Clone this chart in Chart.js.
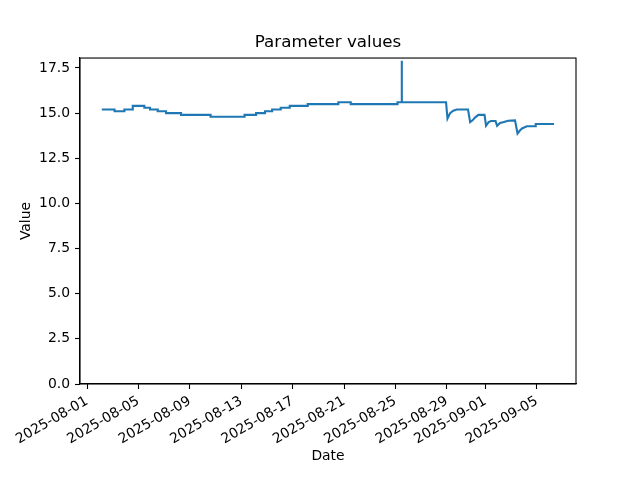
<!DOCTYPE html>
<html>
<head>
<meta charset="utf-8">
<script src="https://cdn.jsdelivr.net/npm/chart.js@4"></script>
<style>
  body { margin: 0; background: #fff; }
  #wrap { width: 640px; height: 480px; }
</style>
</head>
<body>
<div id="wrap"><canvas id="myChart" width="640" height="480"></canvas></div>
<script>
const times = [
  "2025-08-02T03:30", "2025-08-03T03:20", "2025-08-03T03:20", "2025-08-03T21:40",
  "2025-08-03T21:40", "2025-08-04T13:20", "2025-08-04T13:20", "2025-08-05T11:00",
  "2025-08-05T11:00", "2025-08-05T21:40", "2025-08-05T21:40", "2025-08-06T12:00",
  "2025-08-06T12:00", "2025-08-07T03:30", "2025-08-07T03:30", "2025-08-08T07:30",
  "2025-08-08T07:30", "2025-08-10T14:40", "2025-08-10T14:40", "2025-08-13T06:10",
  "2025-08-13T06:10", "2025-08-14T03:40", "2025-08-14T03:40", "2025-08-14T20:20",
  "2025-08-14T20:20", "2025-08-15T09:40", "2025-08-15T09:40", "2025-08-16T01:40",
  "2025-08-16T01:40", "2025-08-16T18:30", "2025-08-16T18:30", "2025-08-18T04:10",
  "2025-08-18T04:10", "2025-08-20T13:20", "2025-08-20T13:20", "2025-08-21T12:30",
  "2025-08-21T12:30", "2025-08-25T03:50", "2025-08-25T03:50", "2025-08-25T11:30",
  "2025-08-25T11:45", "2025-08-25T12:00", "2025-08-28T22:30", "2025-08-29T01:10",
  "2025-08-29T06:00", "2025-08-29T12:00", "2025-08-29T18:30", "2025-08-30T15:30",
  "2025-08-30T19:30", "2025-08-31T00:00", "2025-08-31T04:30", "2025-08-31T10:50",
  "2025-08-31T22:20", "2025-09-01T01:10", "2025-09-01T06:00", "2025-09-01T10:30",
  "2025-09-01T19:00", "2025-09-01T21:50", "2025-09-02T03:20", "2025-09-02T09:00",
  "2025-09-02T18:20", "2025-09-03T07:20", "2025-09-03T12:00", "2025-09-03T16:50",
  "2025-09-03T20:30", "2025-09-04T05:15", "2025-09-04T22:00", "2025-09-04T22:00",
  "2025-09-06T08:10",
];
const values = [
  15.2, 15.2, 15.1, 15.1,
  15.2, 15.2, 15.4, 15.4,
  15.3, 15.3, 15.2, 15.2,
  15.1, 15.1, 15.0, 15.0,
  14.9, 14.9, 14.8, 14.8,
  14.9, 14.9, 15.0, 15.0,
  15.1, 15.1, 15.2, 15.2,
  15.3, 15.3, 15.4, 15.4,
  15.5, 15.5, 15.6, 15.6,
  15.5, 15.5, 15.6, 15.6,
  17.9, 15.6, 15.6, 14.7,
  15.0, 15.13, 15.2, 15.2,
  14.5, 14.6, 14.75, 14.9,
  14.9, 14.3, 14.5, 14.56,
  14.56, 14.3, 14.45, 14.5,
  14.58, 14.6, 13.87, 14.05,
  14.15, 14.27, 14.28, 14.4,
  14.4,
];
const xTickDates = [
  "2025-08-01", "2025-08-05", "2025-08-09", "2025-08-13", "2025-08-17",
  "2025-08-21", "2025-08-25", "2025-08-29", "2025-09-01", "2025-09-05",
];
const yTicks = [0, 2.5, 5, 7.5, 10, 12.5, 15, 17.5];

const DAY = 86400000;
const ms = (s) => Date.parse(s.length === 10 ? s + "T00:00Z" : s + "Z");
const xMin = ms("2025-08-01") - 0.55 * DAY;
const xMax = ms("2025-08-01") + 38.05 * DAY;

Chart.defaults.font.family = "'DejaVu Sans', sans-serif";
Chart.defaults.font.size = 13.9;
Chart.defaults.color = "#000";

// black box around the plot area, like matplotlib spines
const frame = {
  id: "frame",
  afterDraw(chart) {
    const { ctx, chartArea: a } = chart;
    ctx.save();
    ctx.strokeStyle = "#000";
    ctx.lineWidth = 1.1;
    ctx.strokeRect(a.left, a.top, a.right - a.left, a.bottom - a.top);
    ctx.restore();
  },
};

const tickGrid = {
  drawOnChartArea: false,
  drawTicks: true,
  tickLength: 5,
  tickColor: "#000",
  tickWidth: 1.1,
};

const ctx = document.getElementById("myChart");

new Chart(ctx, {
  type: "line",
  data: {
    datasets: [
      {
        data: times.map((t, i) => ({ x: ms(t), y: values[i] })),
        borderColor: "#1f77b4",
        borderWidth: 2.1,
        pointRadius: 0,
        tension: 0,
        fill: false,
      },
    ],
  },
  options: {
    responsive: false,
    animation: false,
    layout: { padding: { left: 16, right: 0, top: 0, bottom: 0 } },
    plugins: {
      legend: { display: false },
      tooltip: { enabled: false },
      title: {
        display: true,
        text: "Parameter values",
        font: { size: 16.7, weight: "normal" },
        padding: { top: 33, bottom: 5 },
      },
    },
    scales: {
      x: {
        type: "linear",
        min: xMin,
        max: xMax,
        afterBuildTicks: (scale) => {
          scale.ticks = xTickDates.map((d) => ({ value: ms(d) }));
        },
        afterFit: (scale) => {
          scale.height = 96;
        },
        ticks: {
          autoSkip: false,
          maxRotation: 30,
          minRotation: 30,
          padding: 4,
          callback: (v) => new Date(v).toISOString().slice(0, 10),
        },
        grid: tickGrid,
        border: { display: true, color: "#000", width: 1.1 },
        title: {
          display: true,
          text: "Date",
          padding: { top: 0, bottom: 15 },
        },
      },
      y: {
        type: "linear",
        min: 0,
        max: 18.05,
        afterBuildTicks: (scale) => {
          scale.ticks = yTicks.map((v) => ({ value: v }));
        },
        afterFit: (scale) => {
          scale.width = 64;
        },
        ticks: {
          padding: 5,
          callback: (v) => v.toFixed(1),
        },
        grid: tickGrid,
        border: { display: true, color: "#000", width: 1.1 },
        title: {
          display: true,
          text: "Value",
          padding: { top: 2, bottom: 0 },
        },
      },
      // empty right-hand axis, only there to reserve the right margin
      yRight: {
        type: "linear",
        position: "right",
        afterFit: (scale) => {
          scale.width = 64;
        },
        ticks: { display: false },
        grid: { display: false },
        border: { display: false },
      },
    },
  },
  plugins: [frame],
});
</script>
</body>
</html>
